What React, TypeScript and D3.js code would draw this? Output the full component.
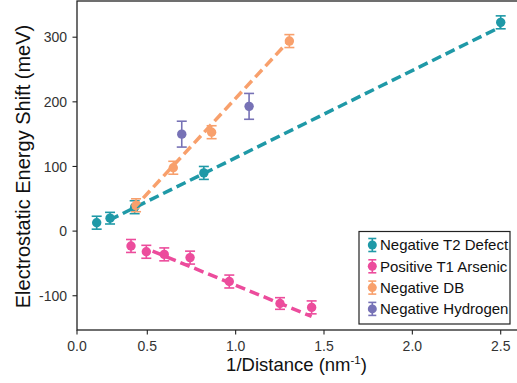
import React from "react";
import * as d3 from "d3";

// ---- data ----
const seriesNames = ["Negative T2 Defect", "Positive T1 Arsenic", "Negative DB", "Negative Hydrogen"];
const seriesColors = ["#1f99a7", "#ec4c9c", "#f8a06c", "#7772b6"];

const t2X = [0.14, 0.235, 0.41, 0.82, 2.5];
const t2Y = [13, 20, 37, 90, 323];
const t2Err = [10, 9, 10, 10, 10];

const asX = [0.384, 0.493, 0.596, 0.742, 0.964, 1.251, 1.43];
const asY = [-23, -32, -36, -41, -78, -112, -118];
const asErr = [10, 10, 10, 10, 10, 9, 10];

const dbX = [0.42, 0.647, 0.864, 1.304];
const dbY = [40, 98, 153, 294];
const dbErr = [10, 10, 10, 10];

const hX = [0.695, 1.076];
const hY = [150, 193];
const hErr = [20, 20];

// fitted lines: [x, y] endpoints
const t2Fit: [number, number][] = [[0.23, 17], [2.5, 316]];
const asFit: [number, number][] = [[0.53, -31], [1.43, -132]];
const dbFit: [number, number][] = [[0.398, 34], [1.3, 294]];

const xTicks = [0.0, 0.5, 1.0, 1.5, 2.0, 2.5];
const yTicks = [-100, 0, 100, 200, 300];

const W = 517;
const H = 383;
const left = 77;
const right = 518;
const top = 1;
const bottom = 330;
const font = "'Liberation Sans', Arial, sans-serif";

export default function App() {
  const x = d3.scaleLinear().domain([0, 0.5, 2.5]).range([left, 147.3, 500.7]);
  const y = d3.scaleLinear().domain([-153, 356]).range([bottom, top]);
  const line = d3.line<[number, number]>().x((d) => x(d[0])).y((d) => y(d[1]));

  const series = [
    { xs: t2X, ys: t2Y, es: t2Err, c: seriesColors[0] },
    { xs: asX, ys: asY, es: asErr, c: seriesColors[1] },
    { xs: dbX, ys: dbY, es: dbErr, c: seriesColors[2] },
    { xs: hX, ys: hY, es: hErr, c: seriesColors[3] },
  ];
  const fits = [
    { d: t2Fit, c: seriesColors[0] },
    { d: asFit, c: seriesColors[1] },
    { d: dbFit, c: seriesColors[2] },
  ];
  const cap = 5;

  const lgX = 359, lgY = 231.5, lgW = 151, lgH = 92.5;

  return (
    <svg width={W} height={H} style={{ position: "absolute", left: 0, top: 0 }} fontFamily={font}>
      <rect x={0} y={0} width={W} height={H} fill="#fff" />
      {series.map((s, si) => (
        <g key={si} stroke={s.c} fill={s.c}>
          {s.xs.map((xv, i) => {
            const cx = x(xv);
            const y1 = y(s.ys[i] + s.es[i]);
            const y0 = y(s.ys[i] - s.es[i]);
            return (
              <g key={i}>
                <line x1={cx} x2={cx} y1={y1} y2={y0} strokeWidth={1.6} />
                <line x1={cx - cap} x2={cx + cap} y1={y1} y2={y1} strokeWidth={1.6} />
                <line x1={cx - cap} x2={cx + cap} y1={y0} y2={y0} strokeWidth={1.6} />
                <circle cx={cx} cy={y(s.ys[i])} r={4.7} stroke="none" />
              </g>
            );
          })}
        </g>
      ))}
      {fits.map((f, i) => (
        <path key={i} d={line(f.d) || ""} fill="none" stroke={f.c} strokeWidth={3.5} strokeDasharray="10,5" />
      ))}
      {/* frame */}
      <rect x={left} y={top} width={right - left} height={bottom - top} fill="none" stroke="#222" strokeWidth={1.3} />
      {/* x ticks */}
      {xTicks.map((t) => (
        <g key={t} transform={`translate(${x(t)},${bottom})`}>
          <line y1={0} y2={4.5} stroke="#222" strokeWidth={1.1} />
          <text y={20.5} textAnchor="middle" fontSize={14} fill="#333">{t.toFixed(1)}</text>
        </g>
      ))}
      {yTicks.map((t) => (
        <g key={t} transform={`translate(${left},${y(t)})`}>
          <line x1={0} x2={-4.5} stroke="#222" strokeWidth={1.1} />
          <text x={-10} dy="0.36em" textAnchor="end" fontSize={14} fill="#333">{t}</text>
        </g>
      ))}
      <text x={(left + 516) / 2} y={371} textAnchor="middle" fontSize={18.5} fill="#111">
        1/Distance (nm<tspan dy={-7.5} fontSize={11.5}>-1</tspan><tspan dy={7.5}>)</tspan>
      </text>
      <text transform={`translate(30,${(top + bottom) / 2 + 1}) rotate(-90)`} textAnchor="middle" fontSize={20} fill="#111">
        Electrostatic Energy Shift (meV)
      </text>
      {/* legend */}
      <rect x={lgX} y={lgY} width={lgW} height={lgH} fill="#fff" stroke="#222" strokeWidth={1.2} />
      {seriesNames.map((n, i) => {
        const cy = 245 + i * 21.3;
        const cx = 372.3;
        const c = seriesColors[i];
        return (
          <g key={n}>
            <line x1={cx} x2={cx} y1={cy - 6.5} y2={cy + 6.5} stroke={c} strokeWidth={1.6} />
            <line x1={cx - 4} x2={cx + 4} y1={cy - 6.5} y2={cy - 6.5} stroke={c} strokeWidth={1.6} />
            <line x1={cx - 4} x2={cx + 4} y1={cy + 6.5} y2={cy + 6.5} stroke={c} strokeWidth={1.6} />
            <circle cx={cx} cy={cy} r={4.5} fill={c} />
            <text x={380} y={cy} dy="0.36em" fontSize={15} fill="#111">{n}</text>
          </g>
        );
      })}
    </svg>
  );
}
